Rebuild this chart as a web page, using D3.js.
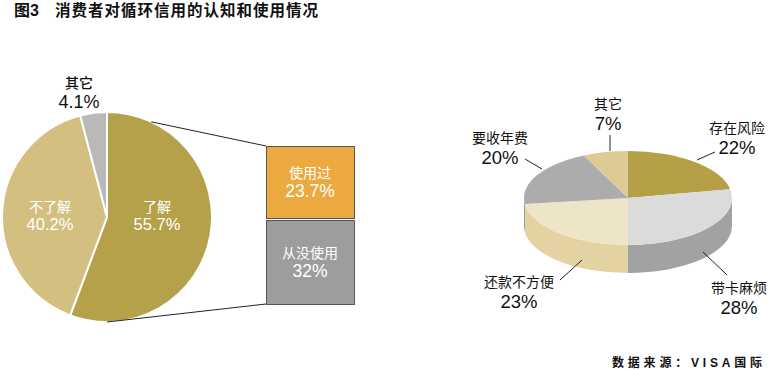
<!DOCTYPE html>
<html>
<head>
<meta charset="utf-8">
<script src="https://cdn.jsdelivr.net/npm/d3@7"></script>
<style>
  body { margin: 0; background: #fff; }
  svg { display: block; font-family: "Liberation Sans", "Noto Sans CJK SC", sans-serif; }
</style>
</head>
<body>
<div id="chart"></div>
<script>
// 认知情况
var awareLabels = ["了解", "不了解", "其它"];
var awareValues = [55.7, 40.2, 4.1];
var awareColors = ["#b5a14a", "#d3bf80", "#b9b9b9"];

// 了解者中的使用情况
var useLabels = ["使用过", "从没使用"];
var useValues = [23.7, 32];
var useColors = ["#eba93f", "#9d9d9d"];

// 不使用的原因
var reasonLabels = ["存在风险", "带卡麻烦", "还款不方便", "要收年费", "其它"];
var reasonValues = [22, 28, 23, 20, 7];
var reasonTop = ["#b5a048", "#dbdbdb", "#eee4c8", "#acacac", "#dccb94"];
var reasonSide = ["#8f7f38", "#a2a2a2", "#e3d3a3", "#8a8a8a", "#c4b37c"];

var svgWidth = 769;
var svgHeight = 370;

var svg = d3.select("#chart")
    .append("svg")
    .attr("width", svgWidth)
    .attr("height", svgHeight);

// 标题
svg.append("text")
    .attr("x", 14)
    .attr("y", 16)
    .attr("font-size", 16)
    .attr("font-weight", "bold")
    .attr("fill", "#111")
    .text("图3");
svg.append("text")
    .attr("x", 55)
    .attr("y", 16)
    .attr("font-size", 15.5)
    .attr("font-weight", "bold")
    .attr("fill", "#111")
    .attr("textLength", 263)
    .attr("lengthAdjust", "spacing")
    .text("消费者对循环信用的认知和使用情况");

// ---------- 左边饼图 ----------
var cx = 107, cy = 217, r = 105;
var pie = d3.pie().sort(null).value(function(d) { return d; });
var arcs = pie(awareValues);
var arc = d3.arc().innerRadius(0).outerRadius(r);

var left = svg.append("g").attr("transform", "translate(" + cx + "," + cy + ")");

left.selectAll("path")
    .data(arcs)
    .enter().append("path")
    .attr("d", arc)
    .attr("fill", function(d, i) { return awareColors[i]; })
    .attr("stroke", "#fff")
    .attr("stroke-width", 2);

// 连接线
var box = {x: 266, w: 88, tops: [146, 220], heights: [72, 84]};
function onCircle(deg) {
    var a = deg * Math.PI / 180;
    return [cx + r * Math.sin(a), cy - r * Math.cos(a)];
}
var p1 = onCircle(25), p2 = onCircle(180);
svg.append("line")
    .attr("x1", p1[0]).attr("y1", p1[1])
    .attr("x2", box.x).attr("y2", box.tops[0])
    .attr("stroke", "#222").attr("stroke-width", 1);
svg.append("line")
    .attr("x1", p2[0]).attr("y1", p2[1])
    .attr("x2", box.x).attr("y2", box.tops[1] + box.heights[1])
    .attr("stroke", "#222").attr("stroke-width", 1);

// 饼内标签
var inLabelPos = [[50, -5], [-57, -5]];
[0, 1].forEach(function(i) {
    left.append("text")
        .attr("x", inLabelPos[i][0]).attr("y", inLabelPos[i][1])
        .attr("text-anchor", "middle")
        .attr("font-size", 14)
        .attr("fill", "#fff")
        .text(awareLabels[i]);
    left.append("text")
        .attr("x", inLabelPos[i][0]).attr("y", inLabelPos[i][1] + 18)
        .attr("text-anchor", "middle")
        .attr("font-size", 16.5)
        .attr("fill", "#fff")
        .text(awareValues[i] + "%");
});
svg.append("text")
    .attr("x", 79).attr("y", 88)
    .attr("text-anchor", "middle")
    .attr("font-size", 14)
    .attr("font-weight", 500)
    .attr("fill", "#111")
    .text(awareLabels[2]);
svg.append("text")
    .attr("x", 79).attr("y", 108)
    .attr("text-anchor", "middle")
    .attr("font-size", 18)
    .attr("fill", "#111")
    .text(awareValues[2] + "%");

// 方块
var boxes = svg.selectAll("g.box")
    .data(useValues)
    .enter().append("g")
    .attr("class", "box");
boxes.append("rect")
    .attr("x", box.x + 0.5)
    .attr("y", function(d, i) { return box.tops[i] + 0.5; })
    .attr("width", box.w)
    .attr("height", function(d, i) { return box.heights[i]; })
    .attr("fill", function(d, i) { return useColors[i]; })
    .attr("stroke", "#555")
    .attr("stroke-width", 1);
boxes.append("text")
    .attr("x", box.x + box.w / 2)
    .attr("y", function(d, i) { return box.tops[i] + box.heights[i] / 2 - 4; })
    .attr("text-anchor", "middle")
    .attr("font-size", 14)
    .attr("fill", "#fff")
    .text(function(d, i) { return useLabels[i]; });
boxes.append("text")
    .attr("x", box.x + box.w / 2)
    .attr("y", function(d, i) { return box.tops[i] + box.heights[i] / 2 + 15; })
    .attr("text-anchor", "middle")
    .attr("font-size", 17.5)
    .attr("fill", "#fff")
    .text(function(d) { return d + "%"; });

// ---------- 右边立体饼图 ----------
var ex = 628, ey = 198, rx = 104, ry = 47, depth = 28;
var rArcs = pie(reasonValues);

function pt(a, dy) {
    return [ex + rx * Math.sin(a), ey - ry * Math.cos(a) + (dy || 0)];
}
function topPath(d) {
    var s = pt(d.startAngle), e = pt(d.endAngle);
    var large = (d.endAngle - d.startAngle) > Math.PI ? 1 : 0;
    return "M" + ex + "," + ey + "L" + s + "A" + rx + "," + ry + " 0 " + large + " 1 " + e + "Z";
}
function sidePath(d) {
    var a0 = Math.max(d.startAngle, Math.PI / 2);
    var a1 = Math.min(d.endAngle, Math.PI * 3 / 2);
    if (a1 <= a0) return null;
    var s = pt(a0), e = pt(a1), eb = pt(a1, depth), sb = pt(a0, depth);
    return "M" + s + "A" + rx + "," + ry + " 0 0 1 " + e +
        "L" + eb + "A" + rx + "," + ry + " 0 0 0 " + sb + "Z";
}

var right = svg.append("g");
right.selectAll("path.side")
    .data(rArcs.filter(function(d) { return sidePath(d); }))
    .enter().append("path")
    .attr("class", "side")
    .attr("d", sidePath)
    .attr("fill", function(d) { return reasonSide[d.index]; });
right.selectAll("path.top")
    .data(rArcs)
    .enter().append("path")
    .attr("class", "top")
    .attr("d", topPath)
    .attr("fill", function(d) { return reasonTop[d.index]; });

// 标签与引线
var rLayout = [
    {lx: 737, ly: 133, from: [715, 152], to: [697, 160]},
    {lx: 739, ly: 293, from: [727, 275], to: [703, 252]},
    {lx: 519, ly: 287, from: [560, 280], to: [582, 260]},
    {lx: 500, ly: 143, from: [525, 159], to: [542, 169]},
    {lx: 608, ly: 109, from: [610, 135], to: [610, 151]}
];
rLayout.forEach(function(l, i) {
    svg.append("line")
        .attr("x1", l.from[0]).attr("y1", l.from[1])
        .attr("x2", l.to[0]).attr("y2", l.to[1])
        .attr("stroke", "#222").attr("stroke-width", 1);
    svg.append("text")
        .attr("x", l.lx).attr("y", l.ly)
        .attr("text-anchor", "middle")
        .attr("font-size", 14)
        .attr("fill", "#111")
        .text(reasonLabels[i]);
    svg.append("text")
        .attr("x", l.lx).attr("y", l.ly + 21)
        .attr("text-anchor", "middle")
        .attr("font-size", 18.5)
        .attr("fill", "#111")
        .text(reasonValues[i] + "%");
});

// 来源
svg.append("text")
    .attr("x", 612).attr("y", 367)
    .attr("font-size", 12)
    .attr("font-weight", "bold")
    .attr("textLength", 150)
    .attr("lengthAdjust", "spacing")
    .attr("fill", "#111")
    .text("数据来源：VISA国际");
</script>
</body>
</html>
